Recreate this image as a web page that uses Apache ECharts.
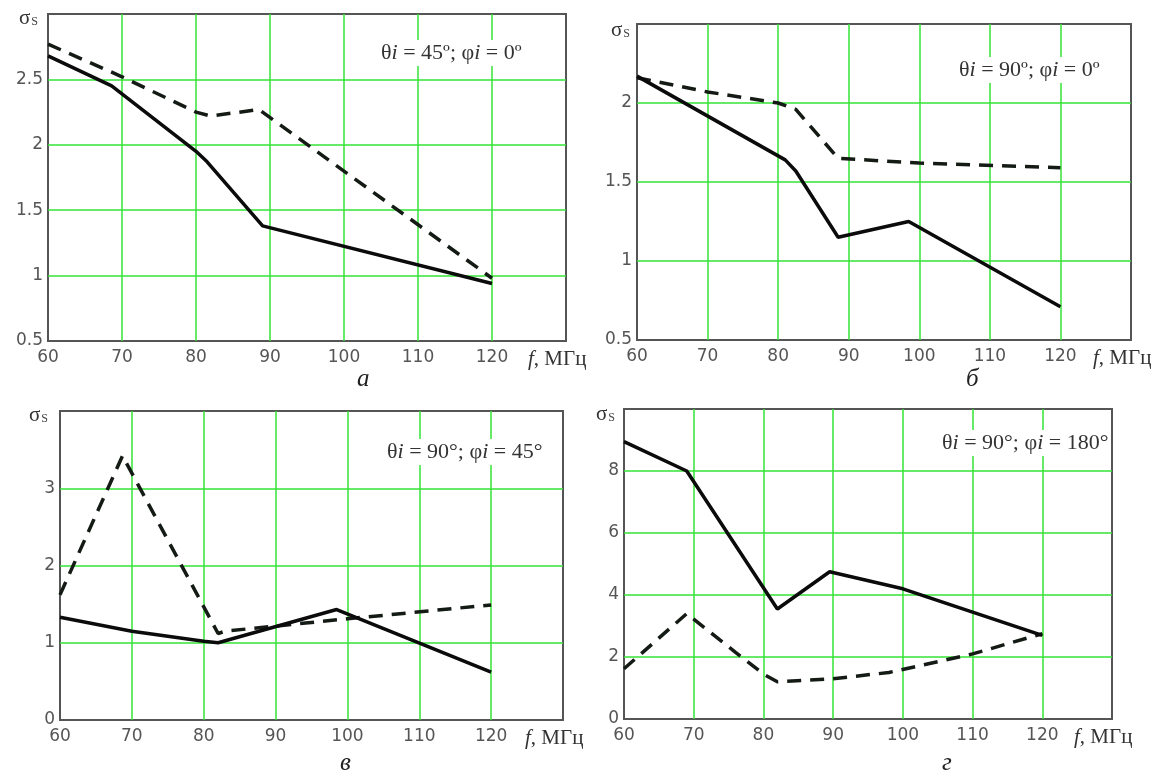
<!DOCTYPE html>
<html>
<head>
<meta charset="utf-8">
<script src="https://cdn.jsdelivr.net/npm/echarts@6/dist/echarts.min.js"></script>
<style>
html,body{margin:0;padding:0;background:#fff;}
#c{width:1157px;height:776px;}
</style>
</head>
<body>
<div id="c"></div>
<script>
// ---- data (frequency MHz, sigma_s) ----
const xTicks = [60, 70, 80, 90, 100, 110, 120];
const aSolid  = [[60,2.68],[68.6,2.45],[80,1.95],[81.5,1.87],[89,1.38],[120,0.94]];
const aDashed = [[60,2.77],[70,2.52],[80,2.25],[82,2.22],[88.5,2.27],[120,0.98]];
const bSolid  = [[60,2.17],[81,1.64],[82.5,1.57],[88.5,1.15],[98.5,1.25],[120,0.71]];
const bDashed = [[60,2.16],[70,2.07],[80,2.0],[82.5,1.96],[88.5,1.65],[100,1.62],[120,1.59]];
const cSolid  = [[60,1.33],[70,1.15],[80,1.02],[82,1.0],[98.5,1.43],[120,0.62]];
const cDashed = [[60,1.62],[68.7,3.42],[82,1.12],[83,1.15],[100,1.31],[120,1.49]];
const dSolid  = [[60,8.95],[69,8.0],[82,3.55],[89.5,4.75],[100,4.2],[120,2.7]];
const dDashed = [[60,1.62],[69,3.4],[76,2.15],[80,1.45],[82,1.2],[90,1.3],[98,1.5],[110,2.1],[120,2.75]];
const yRanges = [[0.5,3,0.5],[0.5,2.5,0.5],[0,4,1],[0,10,2]];
const notes = [['45º','0º'],['90º','0º'],['90°','45°'],['90°','180°']];
const captions = ['а','б','в','г'];
const xUnit = 'МГц';

const grids = [
  {left:48, top:14, width:518, height:327},
  {left:637, top:24, width:494, height:316},
  {left:60, top:411, width:503, height:309},
  {left:624, top:409, width:488, height:310}
];
const gridColor = '#35e335';
const serif = 'Liberation Serif';
const tickFont = 'DejaVu Sans';

const chart = echarts.init(document.getElementById('c'), null, {renderer:'canvas'});

const xAxes = grids.map((g,i)=>({
  type:'value', gridIndex:i, min:60, max:130, interval:10,
  axisLine:{show:false}, axisTick:{show:false},
  splitLine:{show:true, showMinLine:false, showMaxLine:false, lineStyle:{color:gridColor, width:1.5}},
  axisLabel:{margin:8, showMaxLabel:false, fontFamily:tickFont, fontSize:17, color:'#555'},
  name:'{it|f}{n|, '+xUnit+'}', nameLocation:'end', nameGap:-38,
  nameTextStyle:{verticalAlign:'top', padding:[8,0,0,0],
    rich:{it:{fontFamily:serif, fontStyle:'italic', fontSize:21, color:'#333'},
          n:{fontFamily:serif, fontSize:21, color:'#333'}}}
}));
const yAxes = grids.map((g,i)=>({
  type:'value', gridIndex:i, min:yRanges[i][0], max:yRanges[i][1], interval:yRanges[i][2],
  axisLine:{show:false}, axisTick:{show:false},
  splitLine:{show:true, showMinLine:false, showMaxLine:false, lineStyle:{color:gridColor, width:1.5}},
  axisLabel:{margin:5, showMaxLabel:false, fontFamily:tickFont, fontSize:17, color:'#555'}
}));

const solidStyle = {color:'#0b0b0b', width:3.5};
const dashStyle = {color:'#141a14', width:3.5, type:[14,9]};
const allSeries = [[aSolid,aDashed],[bSolid,bDashed],[cSolid,cDashed],[dSolid,dDashed]];
const series = [];
allSeries.forEach((pair,i)=>{
  series.push({type:'line', xAxisIndex:i, yAxisIndex:i, data:pair[1], symbol:'none', lineStyle:dashStyle, z:3});
  series.push({type:'line', xAxisIndex:i, yAxisIndex:i, data:pair[0], symbol:'none', lineStyle:solidStyle, z:4});
});

const sigmaPos = [[19,8],[611,20],[29,405],[596,404]];
const notePos = [[379,40],[957,57],[385,439],[940,430]];
const capPos = [[357,367],[966,367],[340,751],[942,751]];
const graphic = [];
for (let i=0;i<4;i++){
  graphic.push({type:'text', left:sigmaPos[i][0], top:sigmaPos[i][1], z:10,
    style:{text:'{s|σ}{sub|S}', rich:{s:{fontFamily:serif, fontSize:21, fill:'#333'},
      sub:{fontFamily:serif, fontSize:12, fill:'#444', padding:[7,0,0,1]}}}});
  graphic.push({type:'text', left:notePos[i][0], top:notePos[i][1], z:10,
    style:{text:'{n|θ}{it|i}{n| = '+notes[i][0]+'; φ}{it|i}{n| = '+notes[i][1]+'}',
      rich:{n:{fontFamily:serif, fontSize:22, fill:'#333'},
            it:{fontFamily:serif, fontSize:22, fontStyle:'italic', fill:'#333'}},
      backgroundColor:'#fff', padding:[2,2]}});
  graphic.push({type:'text', left:capPos[i][0], top:capPos[i][1], z:10,
    style:{text:captions[i], fontFamily:serif, fontStyle:'italic', fontSize:25, fill:'#222'}});
}

chart.setOption({
  backgroundColor:'#fff',
  animation:false,
  grid: grids.map(g=>Object.assign({show:true, borderColor:'#555', borderWidth:2, backgroundColor:'#fff'}, g)),
  xAxis:xAxes, yAxis:yAxes, series:series, graphic:graphic
});
</script>
</body>
</html>
